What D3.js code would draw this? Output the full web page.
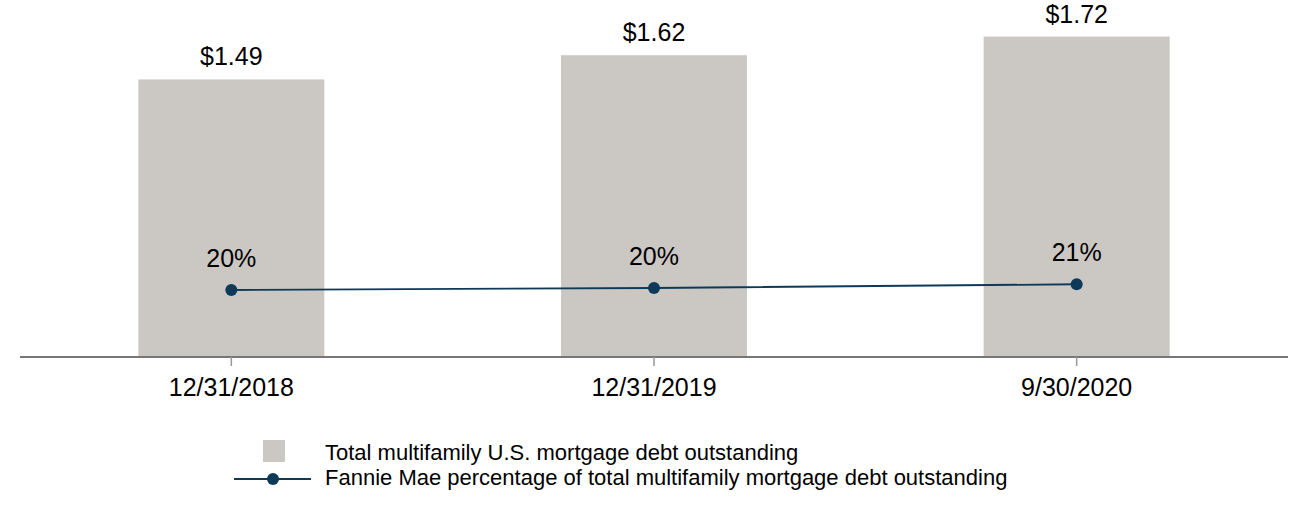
<!DOCTYPE html>
<html>
<head>
<meta charset="utf-8">
<script src="https://cdn.jsdelivr.net/npm/d3@7"></script>
<style>
  html, body { margin: 0; padding: 0; background: #fff; }
  svg { display: block; font-family: "Liberation Sans", Arial, Helvetica, sans-serif; }
</style>
</head>
<body>
<svg id="chart" width="1308" height="516"></svg>
<script>
const categories = ["12/31/2018", "12/31/2019", "9/30/2020"];
const debtTrillions = [1.49, 1.62, 1.72];
const fannieSharePct = [19.7, 20.3, 21.4];
const legendLabels = [
  "Total multifamily U.S. mortgage debt outstanding",
  "Fannie Mae percentage of total multifamily mortgage debt outstanding"
];

const barColor = "#cbc8c4";
const lineColor = "#0d3a58";

const svg = d3.select("#chart");
const baseY = 357;

const x = d3.scaleBand().domain(categories).range([20, 1288])
  .paddingInner(0.56).paddingOuter(0.28);
const y = d3.scaleLinear().domain([0, 1.9]).range([baseY, baseY - 1.9 * 186.3]);
const y2 = d3.scaleLinear().domain([0, 100]).range([baseY, baseY - 340]);

const data = categories.map((c, i) => ({ c, v: debtTrillions[i], p: fannieSharePct[i] }));

// bars
svg.append("g").selectAll("rect").data(data).join("rect")
  .attr("x", d => x(d.c))
  .attr("y", d => y(d.v))
  .attr("width", x.bandwidth())
  .attr("height", d => y(0) - y(d.v))
  .attr("fill", barColor);

// bar labels
svg.append("g").selectAll("text").data(data).join("text")
  .attr("x", d => x(d.c) + x.bandwidth() / 2)
  .attr("y", d => y(d.v) - 14)
  .attr("text-anchor", "middle")
  .attr("font-size", 25)
  .attr("fill", "#000")
  .text(d => "$" + d3.format(".2f")(d.v));

// axis
const xAxis = d3.axisBottom(x).tickSize(9).tickPadding(12);
const ax = svg.append("g").attr("transform", `translate(0,${baseY})`).call(xAxis);
ax.select(".domain").attr("stroke", "#777").attr("stroke-width", 2)
  .attr("d", `M20,0H1288`);
ax.selectAll(".tick line").attr("stroke", "#999").attr("stroke-width", 1.5);
ax.selectAll(".tick text").attr("font-size", 25).attr("fill", "#000")
  .attr("font-family", "Liberation Sans, Arial, sans-serif");

// line
const cx = d => x(d.c) + x.bandwidth() / 2;
const line = d3.line().x(cx).y(d => y2(d.p));
svg.append("path").datum(data)
  .attr("d", line).attr("fill", "none")
  .attr("stroke", lineColor).attr("stroke-width", 1.8);
svg.append("g").selectAll("circle").data(data).join("circle")
  .attr("cx", cx).attr("cy", d => y2(d.p)).attr("r", 6)
  .attr("fill", lineColor);
svg.append("g").selectAll("text").data(data).join("text")
  .attr("x", cx).attr("y", d => y2(d.p) - 23)
  .attr("text-anchor", "middle")
  .attr("font-size", 25)
  .attr("fill", "#000")
  .text(d => Math.round(d.p) + "%");

// legend
const lg = svg.append("g");
lg.append("rect").attr("x", 263).attr("y", 440).attr("width", 22).attr("height", 22).attr("fill", barColor);
lg.append("line").attr("x1", 234).attr("x2", 311).attr("y1", 479).attr("y2", 479)
  .attr("stroke", lineColor).attr("stroke-width", 1.8);
lg.append("circle").attr("cx", 273).attr("cy", 479).attr("r", 6).attr("fill", lineColor);
lg.selectAll("text.lt").data(legendLabels).join("text")
  .attr("class", "lt")
  .attr("x", 325).attr("y", (d, i) => 460 + i * 25)
  .attr("font-size", 22)
  .attr("fill", "#000")
  .text(d => d);
</script>
</body>
</html>
